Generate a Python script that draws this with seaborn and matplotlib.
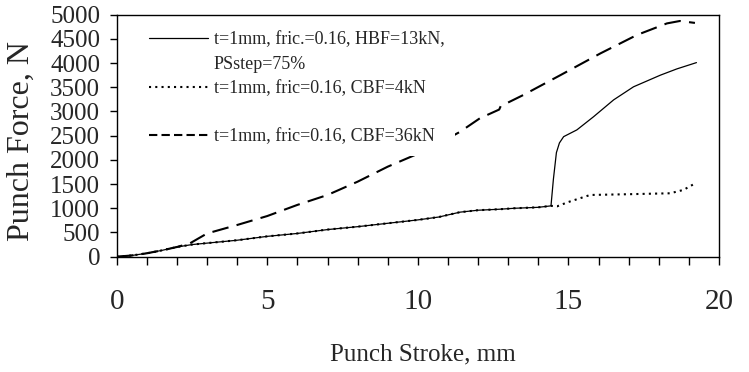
import matplotlib
matplotlib.use("Agg")
import matplotlib.pyplot as plt
from matplotlib.lines import Line2D
from matplotlib.ticker import MultipleLocator
import pandas as pd
import seaborn as sns

# values (stroke in mm, force in N)
common_stroke = [0, 0.5, 1, 1.5, 2, 2.5, 3, 3.5, 4, 5, 6, 7, 8, 9, 10, 10.7, 11.4, 12, 12.7, 13.2, 14, 14.42]
common_force = [0, 25, 70, 130, 200, 250, 280, 310, 340, 420, 480, 560, 620, 690, 760, 820, 920, 960, 980, 1000, 1020, 1050]

hbf_stroke = common_stroke + [14.5, 14.6, 14.7, 14.84, 15.28, 15.83, 16.5, 17.16, 18.05, 18.6, 19.25]
hbf_force = common_force + [1600, 2150, 2350, 2480, 2620, 2890, 3240, 3510, 3750, 3880, 4010]

cbf4_stroke = common_stroke + [14.62, 15.0, 15.72, 16.94, 18.38, 18.82, 19.25]
cbf4_force = common_force + [1040, 1130, 1275, 1290, 1310, 1380, 1530]

cbf36_stroke = [0, 0.5, 1, 1.5, 2, 2.43, 3, 4, 5, 6, 7, 8, 9, 10.35, 11.4, 12.06, 12.7, 12.75,
                13.5, 14.73, 16.06, 17.27, 18.27, 18.7, 19.2]
cbf36_force = [0, 25, 70, 130, 200, 275, 480, 655, 840, 1070, 1275, 1550, 1860, 2220, 2580, 2860, 3040, 3110,
               3340, 3750, 4200, 4580, 4820, 4870, 4830]

labels = ["t=1mm, fric.=0.16, HBF=13kN,", "PSstep=75%", "t=1mm, fric=0.16, CBF=4kN", "",
          "t=1mm, fric=0.16, CBF=36kN"]

sns.set_style("ticks")
plt.rcParams["font.family"] = ["Liberation Serif", "DejaVu Serif"]

fig = plt.figure(figsize=(7.49, 3.72), dpi=100)
ax = fig.add_axes([0.1558, 0.31, 0.8042, 0.6505])

df_hbf = pd.DataFrame({"stroke": hbf_stroke, "force": hbf_force})
df_cbf4 = pd.DataFrame({"stroke": cbf4_stroke, "force": cbf4_force})
df_cbf36 = pd.DataFrame({"stroke": cbf36_stroke, "force": cbf36_force})

sns.lineplot(data=df_cbf36, x="stroke", y="force", ax=ax, color="black", lw=1.5,
             linestyle=(0, (8, 4)), sort=False, estimator=None)
sns.lineplot(data=df_cbf4, x="stroke", y="force", ax=ax, color="black", lw=1.5,
             linestyle=(0, (1, 2)), sort=False, estimator=None)
sns.lineplot(data=df_hbf, x="stroke", y="force", ax=ax, color="black", lw=0.9,
             linestyle="-", sort=False, estimator=None)

ax.set_xlim(0, 20)
ax.set_ylim(0, 5000)
ax.xaxis.set_major_locator(MultipleLocator(5))
ax.xaxis.set_minor_locator(MultipleLocator(1))
ax.yaxis.set_major_locator(MultipleLocator(500))

for s in ax.spines.values():
    s.set_visible(True)
    s.set_color("black")
    s.set_linewidth(1.0)

ax.tick_params(axis="x", which="both", direction="out", length=6, width=1, color="black",
               labelsize=21, pad=17)
ax.tick_params(axis="y", direction="out", length=5, width=1, color="black", labelsize=18, pad=7)

ax.set_xlabel("Punch Stroke, mm", fontsize=18)
ax.set_ylabel("Punch Force, N", fontsize=23)
ax.xaxis.set_label_coords(0.508, -0.36)
ax.yaxis.set_label_coords(-0.135, 0.48)

blank = Line2D([], [], color="none")
handles = [
    Line2D([], [], color="black", lw=0.9, linestyle="-"),
    blank,
    Line2D([], [], color="black", lw=1.5, linestyle=(0, (1, 2))),
    blank,
    Line2D([], [], color="black", lw=1.5, linestyle=(0, (4, 2))),
]
leg = ax.legend(handles, labels, loc="upper left", bbox_to_anchor=(0.035, 0.975),
                fontsize=13, frameon=True, facecolor="white", edgecolor="none", framealpha=1,
                fancybox=False, handlelength=3.3, handletextpad=0.3, labelspacing=0.4,
                borderpad=0.6, borderaxespad=0)

fig.savefig("out.png", dpi=100)
